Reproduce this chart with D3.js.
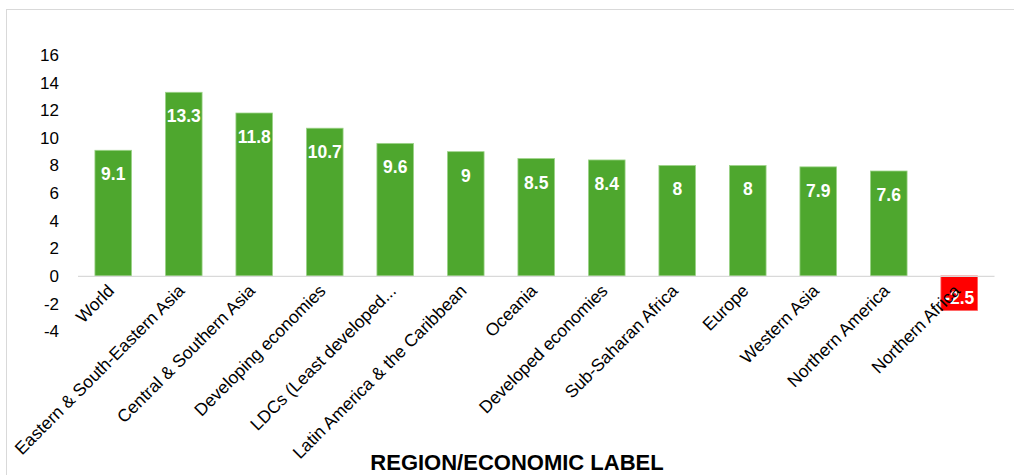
<!DOCTYPE html>
<html><head><meta charset="utf-8">
<script src="https://cdn.jsdelivr.net/npm/d3@7"></script>
<style>body{margin:0;background:#fff;}svg{display:block;}</style>
</head><body>
<svg id="c" width="1014" height="475"></svg>
<script>
const categories = ["World","Eastern & South-Eastern Asia","Central & Southern Asia","Developing economies","LDCs (Least developed...","Latin America & the Caribbean","Oceania","Developed economies","Sub-Saharan Africa","Europe","Western Asia","Northern America","Northern Africa"];
const values = [9.1,13.3,11.8,10.7,9.6,9,8.5,8.4,8,8,7.9,7.6,-2.5];
const yTicks = [-4,-2,0,2,4,6,8,10,12,14,16];
const axisTitle = "REGION/ECONOMIC LABEL";

const svg = d3.select("#c");
// chart border
svg.append("rect").attr("x",6.5).attr("y",9.5).attr("width",1020).attr("height",480)
  .attr("fill","#fff").attr("stroke","#d9d9d9").attr("stroke-width",1);

const x = d3.scaleBand().domain(categories).range([78,994.5]).paddingInner(0.48).paddingOuter(0.24);
const y = d3.scaleLinear().domain([-4,16]).range([331.2,55]);

const font = "'Liberation Sans', Arial, sans-serif";

// y axis labels
const ya = svg.append("g").attr("transform","translate(59,0)")
  .call(d3.axisLeft(y).tickValues(yTicks).tickSize(0).tickPadding(0).tickFormat(d=>String(d)));
ya.select(".domain").remove();
ya.selectAll("text").attr("font-family",font).attr("font-size",17).attr("fill","#000");

// bars
svg.append("g").selectAll("rect").data(values).join("rect")
  .attr("x",(d,i)=>x(categories[i]))
  .attr("width",x.bandwidth())
  .attr("y",d=>y(Math.max(0,d)))
  .attr("height",d=>Math.abs(y(d)-y(0)))
  .attr("fill",d=>d<0?"#ff0000":"#4ea72e")
  .attr("stroke",d=>d<0?"#ff6060":"#9ed48a").attr("stroke-width",0.8);

// zero line
svg.append("line").attr("x1",78).attr("x2",994.5).attr("y1",y(0)+0.5).attr("y2",y(0)+0.5)
  .attr("stroke","#d9d9d9").attr("stroke-width",1.3);

// data labels
svg.append("g").selectAll("text").data(values).join("text")
  .attr("x",(d,i)=>x(categories[i])+x.bandwidth()/2)
  .attr("y",d=>d<0?y(0)+28:y(d)+30)
  .attr("text-anchor","middle")
  .attr("font-family",font).attr("font-weight","bold").attr("font-size",17.5)
  .attr("fill","#fff").text(d=>String(d));

// category labels
svg.append("g").selectAll("text").data(categories).join("text")
  .attr("transform",c=>`translate(${x(c)+x.bandwidth()/2+2},${y(0)+16}) rotate(-45)`)
  .attr("text-anchor","end")
  .attr("font-family",font).attr("font-size",17.5).attr("fill","#000")
  .text(c=>c);

// axis title
svg.append("text").attr("x",517).attr("y",470).attr("text-anchor","middle")
  .attr("font-family","'Liberation Sans Narrow', 'Liberation Sans', Arial, sans-serif").attr("font-weight","bold").attr("font-size",22)
  .attr("fill","#000").text(axisTitle);
</script>
</body></html>
